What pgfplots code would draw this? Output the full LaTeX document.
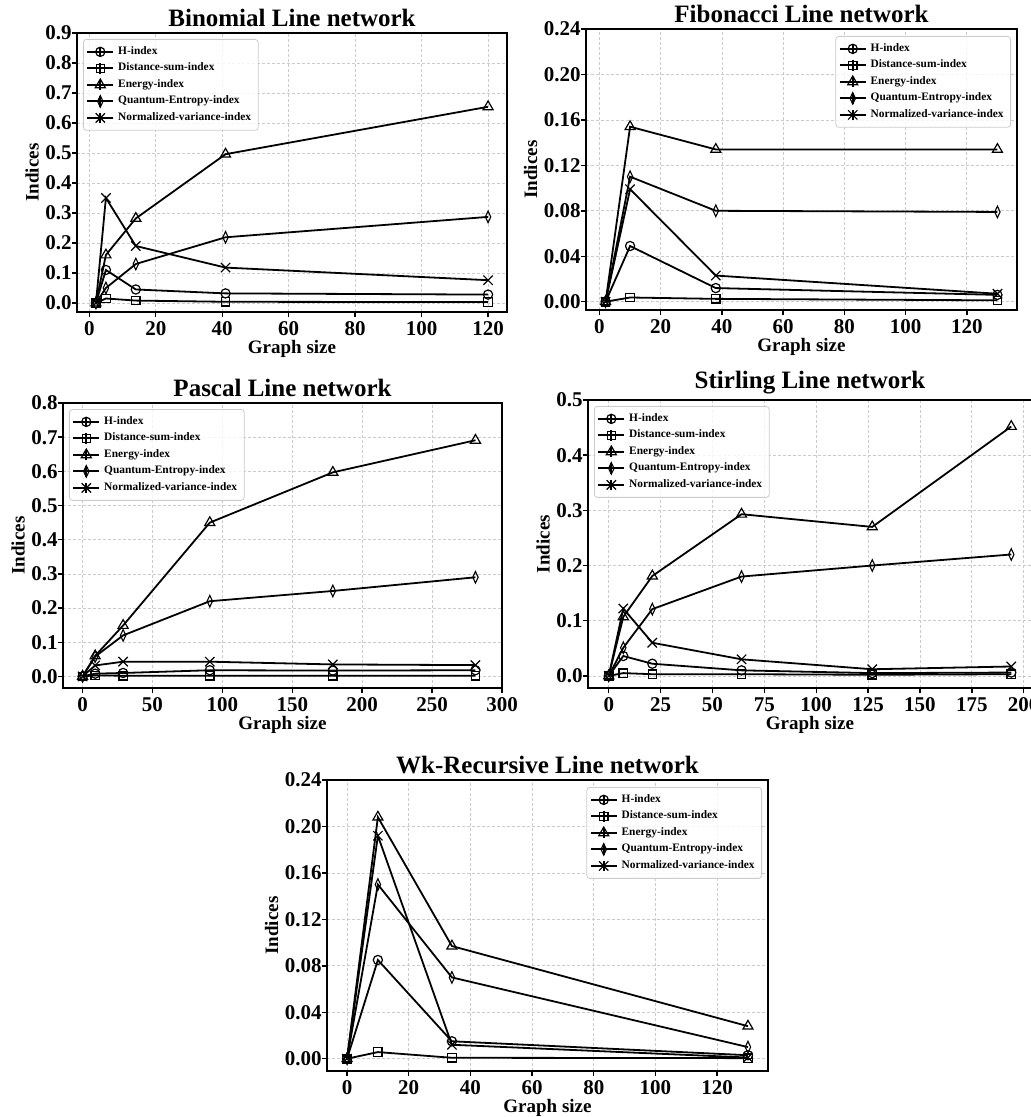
\documentclass[border=0pt]{standalone}
\usepackage{fontspec}
\setmainfont{Liberation Serif}
\usepackage{pgfplots}
\pgfplotsset{compat=1.18}

\pgfplotsset{
  panel/.style={
    scale only axis, anchor=north west,
    axis line style={line width=0.7pt},
    grid=major,
    major grid style={dash pattern=on 1.5pt off 1pt, gray!40, line width=0.35pt},
    tick align=outside, tick pos=left,
    major tick length=2.6pt,
    tick style={black, line width=0.7pt},
    /pgf/number format/assume math mode=true,
    ticklabel style={font=\bfseries\fontsize{10.5}{12}\selectfont},
    xticklabel style={yshift=1.5pt},
    yticklabel style={xshift=3.5pt},
    title style={font=\bfseries\fontsize{12.5}{14}\selectfont, yshift=-6.5pt},
    label style={font=\bfseries\fontsize{9.5}{11}\selectfont},
    xlabel={Graph size}, ylabel={Indices},
    xlabel style={yshift=4.5pt}, ylabel style={yshift=-3.5pt},
    legend cell align=left,
    legend style={font=\bfseries\fontsize{5.7}{6}\selectfont,
      draw=gray!40, rounded corners=1.5pt, fill=white, fill opacity=0.8,
      text opacity=1, inner sep=1.5pt, row sep=-1.2pt},
    legend image code/.code={
      \draw[mark repeat=2, mark phase=2, #1] plot coordinates {(0pt,0pt) (6.5pt,0pt) (13pt,0pt)};
      \draw[#1] (6.5pt,-2.6pt) -- (6.5pt,2.6pt);
    },
    every axis plot/.append style={black, line width=0.9pt},
  },
  sH/.style={mark=o, mark size=2.3pt, mark options={line width=0.6pt}},
  sD/.style={mark=square, mark size=2.1pt, mark options={line width=0.6pt}},
  sE/.style={mark=triangle, mark size=2.9pt, mark options={line width=0.6pt}},
  sQ/.style={mark=diamond, mark size=2.9pt, mark options={xscale=0.62, line width=0.55pt}},
  sN/.style={mark=x, mark size=3.3pt, mark options={line width=0.6pt}},
  ul/.style={legend style={at={(0,1)}, anchor=north west, xshift=3pt, yshift=-3pt}},
  ur/.style={legend style={at={(1,1)}, anchor=north east, xshift=-3pt, yshift=-3.5pt}},
}

\begin{document}
\begin{tikzpicture}
\useasboundingbox (0pt,0pt) rectangle (515pt,-558.5pt);

% Binomial
\begin{axis}[panel, ul, at={(38.5pt,-16.5pt)}, width=215pt, height=139.5pt,
  title={Binomial Line network},
  xmin=-3.7, xmax=125.7, ymin=-0.03, ymax=0.9,
  xtick={0,20,...,120}, ytick={0,0.1,...,0.9},
  yticklabel style={/pgf/number format/.cd, fixed, fixed zerofill, precision=1}]
\addplot[sH] coordinates {(2,0) (5,0.110) (14,0.045) (41,0.032) (120,0.028)};
\addplot[sD] coordinates {(2,0) (5,0.015) (14,0.008) (41,0.004) (120,0.003)};
\addplot[sE] coordinates {(2,0) (5,0.160) (14,0.282) (41,0.496) (120,0.654)};
\addplot[sQ] coordinates {(2,0) (5,0.050) (14,0.130) (41,0.219) (120,0.287)};
\addplot[sN] coordinates {(2,0) (5,0.350) (14,0.190) (41,0.118) (120,0.076)};
\legend{H-index, Distance-sum-index, Energy-index, Quantum-Entropy-index, Normalized-variance-index}
\end{axis}

% Fibonacci
\begin{axis}[panel, ur, at={(293pt,-14.5pt)}, width=215.5pt, height=140.5pt,
  title={Fibonacci Line network},
  xmin=-4.4, xmax=136.4, ymin=-0.0073, ymax=0.24,
  xtick={0,20,...,120}, ytick={0,0.04,0.08,0.12,0.16,0.20,0.24},
  yticklabel style={/pgf/number format/.cd, fixed, fixed zerofill, precision=2}]
\addplot[sH] coordinates {(2,0) (10,0.049) (38,0.012) (130,0.006)};
\addplot[sD] coordinates {(2,0) (10,0.0037) (38,0.0025) (130,0.0012)};
\addplot[sE] coordinates {(2,0) (10,0.154) (38,0.134) (130,0.134)};
\addplot[sQ] coordinates {(2,0) (10,0.110) (38,0.080) (130,0.079)};
\addplot[sN] coordinates {(2,0) (10,0.099) (38,0.023) (130,0.007)};
\legend{H-index, Distance-sum-index, Energy-index, Quantum-Entropy-index, Normalized-variance-index}
\end{axis}

% Pascal
\begin{axis}[panel, ul, at={(31.5pt,-201.5pt)}, width=219.5pt, height=142.5pt,
  title={Pascal Line network},
  xmin=-14, xmax=300, ymin=-0.034, ymax=0.8,
  xtick={0,50,...,300}, ytick={0,0.1,...,0.8},
  yticklabel style={/pgf/number format/.cd, fixed, fixed zerofill, precision=1}]
\addplot[sH] coordinates {(0,0) (9,0.008) (29,0.010) (91,0.018) (179,0.017) (281,0.018)};
\addplot[sD] coordinates {(0,0) (9,0.003) (29,0.002) (91,0.002) (179,0.002) (281,0.002)};
\addplot[sE] coordinates {(0,0) (9,0.060) (29,0.149) (91,0.450) (179,0.597) (281,0.691)};
\addplot[sQ] coordinates {(0,0) (9,0.058) (29,0.120) (91,0.220) (179,0.250) (281,0.290)};
\addplot[sN] coordinates {(0,0) (9,0.032) (29,0.043) (91,0.043) (179,0.035) (281,0.033)};
\legend{H-index, Distance-sum-index, Energy-index, Quantum-Entropy-index, Normalized-variance-index}
\end{axis}

% Stirling
\begin{axis}[panel, ul, at={(294pt,-200pt)}, width=222pt, height=144pt,
  title={Stirling Line network},
  xmin=-10, xmax=204, ymin=-0.022, ymax=0.5,
  xtick={0,25,...,200}, ytick={0,0.1,...,0.5},
  yticklabel style={/pgf/number format/.cd, fixed, fixed zerofill, precision=1}]
\addplot[sH] coordinates {(0,0) (7,0.036) (21,0.022) (64,0.010) (127,0.005) (194,0.006)};
\addplot[sD] coordinates {(0,0) (7,0.005) (21,0.003) (64,0.003) (127,0.002) (194,0.003)};
\addplot[sE] coordinates {(0,0) (7,0.107) (21,0.181) (64,0.293) (127,0.270) (194,0.452)};
\addplot[sQ] coordinates {(0,0) (7,0.051) (21,0.121) (64,0.180) (127,0.200) (194,0.220)};
\addplot[sN] coordinates {(0,0) (7,0.122) (21,0.060) (64,0.030) (127,0.012) (194,0.017)};
\legend{H-index, Distance-sum-index, Energy-index, Quantum-Entropy-index, Normalized-variance-index}
\end{axis}

% Wk-Recursive
\begin{axis}[panel, ur, at={(163.5pt,-390pt)}, width=220.5pt, height=145.5pt,
  title={Wk-Recursive Line network},
  xmin=-6.5, xmax=136.5, ymin=-0.0106, ymax=0.24,
  xtick={0,20,...,120}, ytick={0,0.04,0.08,0.12,0.16,0.20,0.24},
  yticklabel style={/pgf/number format/.cd, fixed, fixed zerofill, precision=2}]
\addplot[sH] coordinates {(0,0) (10,0.085) (34,0.015) (130,0.003)};
\addplot[sD] coordinates {(0,0) (10,0.0057) (34,0.0008) (130,0.0005)};
\addplot[sE] coordinates {(0,0) (10,0.208) (34,0.097) (130,0.028)};
\addplot[sQ] coordinates {(0,0) (10,0.150) (34,0.070) (130,0.010)};
\addplot[sN] coordinates {(0,0) (10,0.192) (34,0.012) (130,0.001)};
\legend{H-index, Distance-sum-index, Energy-index, Quantum-Entropy-index, Normalized-variance-index}
\end{axis}
\end{tikzpicture}
\end{document}
